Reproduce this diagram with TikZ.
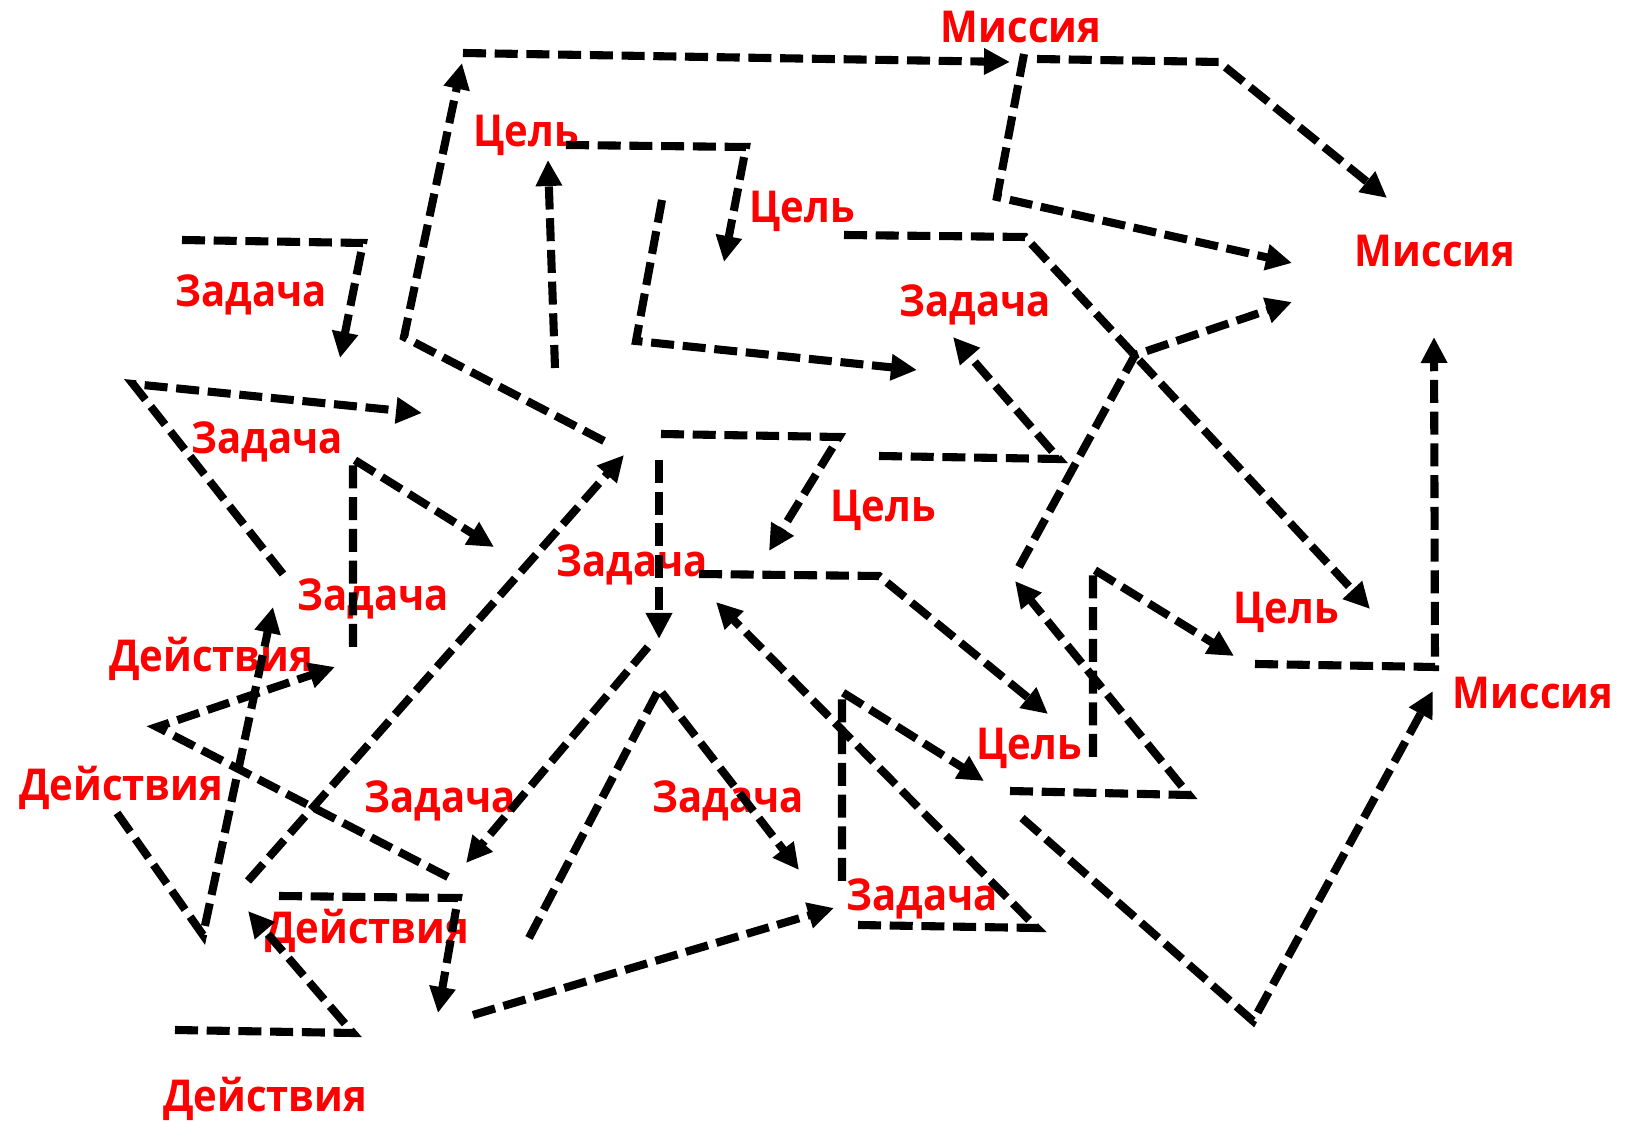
\documentclass[tikz,border=0pt]{standalone}
\usepackage{fontspec}
\setmainfont{Open Sans}[FakeStretch=0.91]
\usetikzlibrary{arrows.meta}
\definecolor{lblred}{RGB}{255,0,0}

\begin{document}
\begin{tikzpicture}[x=0.01cm, y=-0.01cm,
  >={Triangle[length=0.26cm,width=0.25cm]},
  fl/.style={line width=2.3pt, dash pattern=on 0.23cm off 0.087cm},
  lbl/.style={text=lblred, font=\fontsize{12.5}{14}\selectfont\bfseries,
              anchor=base, inner sep=0pt}]
\useasboundingbox (0,0) rectangle (1645,1122);
\node[lbl] (m1) at (1021,43) {Миссия};
\node[lbl] (m2) at (1435,267) {Миссия};
\node[lbl] (m3) at (1533,709) {Миссия};
\node[lbl] (c1) at (526,147) {Цель};
\node[lbl] (c2) at (802,223) {Цель};
\node[lbl] (c3) at (883,522) {Цель};
\node[lbl] (c4) at (1286,624) {Цель};
\node[lbl] (c5) at (1029,760) {Цель};
\node[lbl] (z1) at (251,307) {Задача};
\node[lbl] (z2) at (975,317) {Задача};
\node[lbl] (z3) at (267,454) {Задача};
\node[lbl] (z4) at (373,611) {Задача};
\node[lbl] (z5) at (632,577) {Задача};
\node[lbl] (z6) at (440,813) {Задача};
\node[lbl] (z7) at (728,813) {Задача};
\node[lbl] (z8) at (922,911) {Задача};
\node[lbl] (d1) at (211,672) {Действия};
\node[lbl] (d2) at (121,801) {Действия};
\node[lbl] (d3) at (367,943) {Действия};
\node[lbl] (d4) at (265,1111) {Действия};

\draw[fl,->] (604,441) -- (404,337) -- (462,63);
\draw[fl,->] (463,53) -- (1010,62);
\draw[fl,->] (1037,59) -- (1219,62) -- (1387,198);
\draw[fl,->] (1024,54) -- (997,197) -- (1292,263);
\draw[fl,->] (566,145) -- (746,147) -- (724,262);
\draw[fl,->] (555,368) -- (548,160);
\draw[fl,->] (662,200) -- (636,341) -- (917,370);
\draw[fl,->] (844,235) -- (1025,237) -- (1370,609);
\draw[fl,->] (1019,567) -- (1135,355) -- (1292,302);
\draw[fl,->] (182,240) -- (363,243) -- (340,358);
\draw[fl,->] (283,574) -- (133,384) -- (422,413);
\draw[fl,->] (353,647) -- (353,459) -- (494,547);
\draw[fl,->] (448,877) -- (157,727) -- (335,667);
\draw[fl,->] (117,813) -- (203,935) -- (273,607);
\draw[fl,->] (248,881) -- (624,455);
\draw[fl,->] (661,434) -- (839,437) -- (769,551);
\draw[fl,->] (659,460) -- (659,639);
\draw[fl,->] (699,574) -- (879,576) -- (1048,714);
\draw[fl,->] (879,456) -- (1059,459) -- (953,337);
\draw[fl,->] (1255,664) -- (1435,667) -- (1434,337);
\draw[fl,->] (1093,757) -- (1093,569) -- (1234,656);
\draw[fl,->] (1010,791) -- (1189,795) -- (1015,581);
\draw[fl,->] (1022,818) -- (1253,1021) -- (1433,691);
\draw[fl,->] (842,881) -- (842,692) -- (984,781);
\draw[fl,->] (858,925) -- (1037,928) -- (716,602);
\draw[fl,->] (529,938) -- (659,689) -- (799,870);
\draw[fl,->] (648,647) -- (466,863);
\draw[fl,->] (473,1015) -- (834,908);
\draw[fl,->] (279,896) -- (458,898) -- (438,1013);
\draw[fl,->] (175,1030) -- (353,1033) -- (248,911);
\end{tikzpicture}
\end{document}
